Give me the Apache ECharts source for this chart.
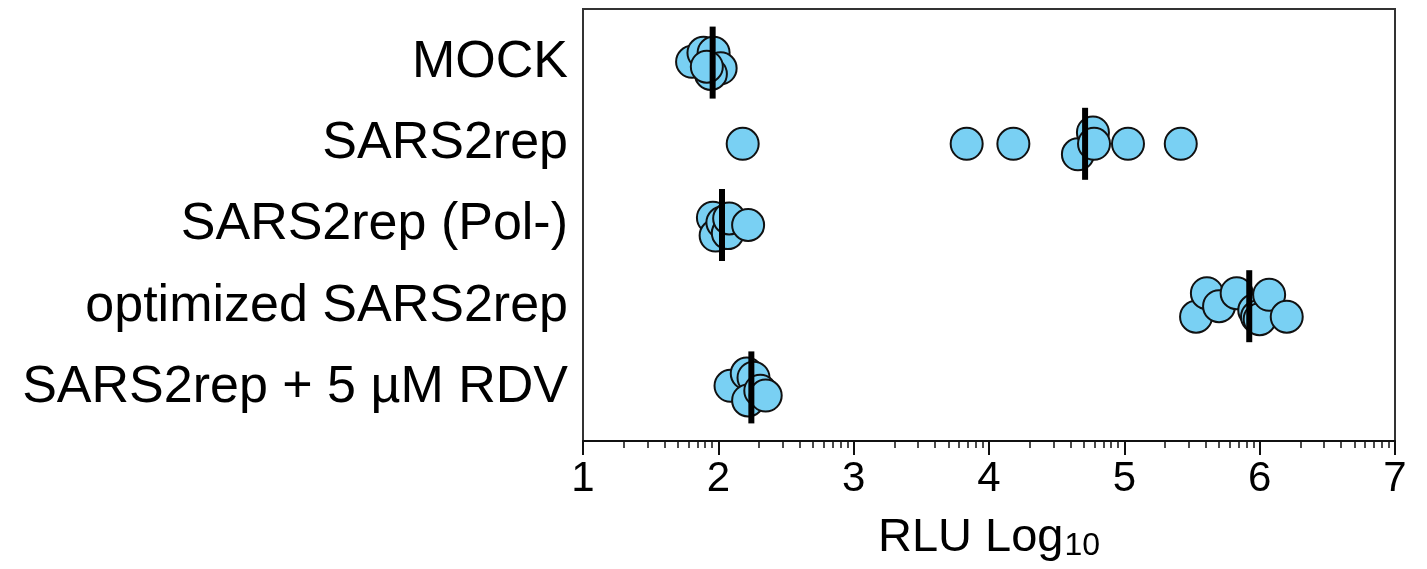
<!DOCTYPE html>
<html>
<head>
<meta charset="utf-8">
<script src="https://cdn.jsdelivr.net/npm/echarts@6/dist/echarts.min.js"></script>
<style>
  html, body { margin: 0; padding: 0; background: #fff; }
  #chart { width: 1427px; height: 569px; }
</style>
</head>
<body>
<div id="chart"></div>
<script>
// ---- data (RLU, log10) ----
const categories = ['MOCK', 'SARS2rep', 'SARS2rep (Pol-)', 'optimized SARS2rep', 'SARS2rep + 5 \u00B5M RDV'];

const mockValues = [1.806, 1.89, 1.965, 2.017, 1.945, 1.915];
const mockJitter = [-0.01, -0.12, -0.12, 0.07, 0.14, 0.05];

const sars2repValues = [2.18, 3.835, 4.18, 4.657, 4.768, 4.776, 5.027, 5.417];
const sars2repJitter = [0, 0, 0, 0.13, -0.14, 0, 0, 0];

const polMinusValues = [1.96, 1.98, 2.03, 2.07, 2.08, 2.22];
const polMinusJitter = [-0.09, 0.13, -0.03, 0.1, -0.08, 0.0];

const optimizedValues = [5.53, 5.61, 5.70, 5.83, 5.96, 5.98, 6.0, 6.07, 6.20];
const optimizedJitter = [0.13, -0.16, 0, -0.16, 0.05, 0.13, 0.16, -0.14, 0.13];

const rdvValues = [2.09, 2.21, 2.26, 2.22, 2.31, 2.35];
const rdvJitter = [-0.02, -0.17, -0.12, 0.16, 0.04, 0.1];

const medians = [1.958, 4.71, 2.027, 5.923, 2.244];

const xTickLabels = ['1', '2', '3', '4', '5', '6', '7'];
// minor ticks of a log10 axis: log10(2..9) inside each decade
const minorFactors = [2, 3, 4, 5, 6, 7, 8, 9];

// ---- build ----
const groups = [
  [mockValues, mockJitter],
  [sars2repValues, sars2repJitter],
  [polMinusValues, polMinusJitter],
  [optimizedValues, optimizedJitter],
  [rdvValues, rdvJitter]
];
const pointData = [];
groups.forEach(([vals, jit], row) => {
  vals.forEach((v, i) => pointData.push([v, row + jit[i]]));
});
const medianData = medians.map((m, row) => [m, row]);

const minorTicks = [];
for (let d = 1; d < 7; d++) {
  minorFactors.forEach(f => minorTicks.push(d + Math.log10(f)));
}

const FONT = "'Liberation Sans', Arial, sans-serif";
const chart = echarts.init(document.getElementById('chart'), null, { renderer: 'canvas' });

chart.setOption({
  animation: false,
  backgroundColor: '#fff',
  grid: {
    left: 583, right: 32, top: 9, bottom: 128,
    show: true, borderColor: '#333', borderWidth: 2, backgroundColor: 'transparent'
  },
  xAxis: [
    {
      type: 'value', min: 1, max: 7, interval: 1, position: 'bottom',
      axisLine: { show: true, onZero: false, lineStyle: { color: '#111', width: 2 } },
      axisTick: { show: true, length: 14, lineStyle: { color: '#111', width: 2 } },
      splitLine: { show: false },
      axisLabel: {
        margin: 17, fontSize: 42, color: '#000', fontFamily: FONT,
        formatter: v => xTickLabels[Math.round(v) - 1]
      },
      name: '{a|RLU Log}{b|10}',
      nameLocation: 'middle',
      nameGap: 73,
      nameTextStyle: {
        rich: {
          a: { fontSize: 47, lineHeight: 47, color: '#000', fontFamily: FONT, verticalAlign: 'top' },
          b: { fontSize: 32, lineHeight: 32, color: '#000', fontFamily: FONT, verticalAlign: 'bottom', padding: [25, 0, 0, 1] }
        }
      }
    },
    {
      type: 'value', min: 1, max: 7, position: 'bottom', offset: 0,
      axisLine: { show: false, onZero: false },
      axisTick: { show: true, length: 7, customValues: minorTicks, lineStyle: { color: '#111', width: 1.5 } },
      axisLabel: { show: false },
      splitLine: { show: false }
    }
  ],
  yAxis: {
    type: 'value', min: -0.66, max: 4.66, inverse: true,
    axisLine: { show: false },
    axisTick: { show: false },
    splitLine: { show: false },
    axisLabel: {
      customValues: [0, 1, 2, 3, 4],
      margin: 15, fontSize: 52, color: '#000', fontFamily: FONT,
      formatter: v => categories[Math.round(v)]
    }
  },
  series: [
    {
      type: 'scatter',
      data: pointData,
      symbol: 'circle',
      symbolSize: 32,
      itemStyle: { color: '#79D0F3', borderColor: '#111', borderWidth: 2, opacity: 1 },
      z: 2
    },
    {
      type: 'scatter',
      data: medianData,
      symbol: 'rect',
      symbolSize: [6, 72],
      itemStyle: { color: '#000', opacity: 1 },
      z: 3
    }
  ]
});
</script>
</body>
</html>
